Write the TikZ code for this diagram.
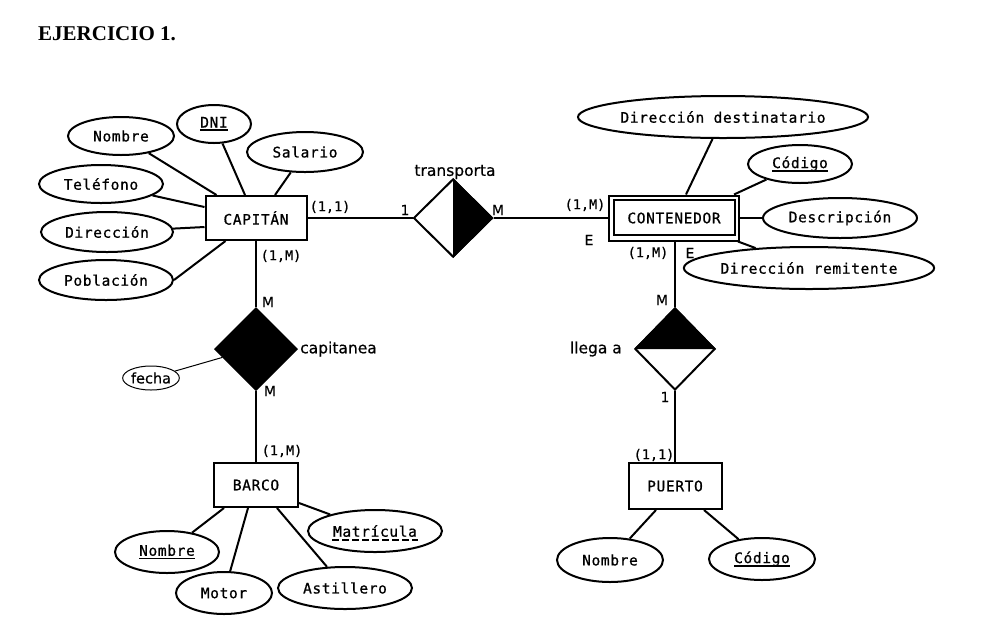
\documentclass[tikz,border=0pt]{standalone}
\usepackage{fontspec}
\setmainfont{Liberation Serif}
\newfontfamily\monof[LetterSpace=4.5,FakeBold=0.8]{DejaVu Sans Mono}
\newfontfamily\monoc[FakeBold=0.8]{DejaVu Sans Mono}
\newfontfamily\sansf[FakeBold=0.5]{DejaVu Sans}
\usetikzlibrary{shapes.geometric,calc}
\newcommand{\uln}[1]{\setbox0=\hbox{#1}\rlap{\rule[-3.5pt]{\wd0}{1.6pt}}\box0}
\tikzset{
 attr/.style={draw, ellipse, line width=2pt, inner sep=0pt, font=\monof\fontsize{14.5}{17}\selectfont},
 ent/.style={draw, rectangle, line width=2pt, inner sep=0pt, font=\monof\fontsize{14.5}{17}\selectfont},
 conn/.style={line width=2pt},
 card/.style={font=\monoc\fontsize{13.5}{16}\selectfont, inner sep=0pt},
 lab/.style={font=\sansf\fontsize{14}{16}\selectfont, inner sep=0pt},
 rname/.style={font=\sansf\fontsize{15.5}{18}\selectfont, inner sep=0pt},
 rel/.style={draw, diamond, aspect=1, line width=2pt, inner sep=0pt},
}
\begin{document}
\begin{tikzpicture}[x=1pt,y=-1pt]
\fill[white] (0,0) rectangle (993,625);
\useasboundingbox (0,0) rectangle (993,625);

\node[anchor=base west, inner sep=0pt, font=\bfseries\fontsize{21}{25}\selectfont] (title) at (38,40) {EJERCICIO 1.};

% CAPITAN
\node[ent, minimum width=101, minimum height=44] (cap) at (256,218) {CAPITÁN};
\node[attr, minimum width=106, minimum height=38] (nom) at (121,136) {Nombre};
\node[attr, minimum width=74, minimum height=38] (dni) at (214,124) {\uln{DNI}};
\node[attr, minimum width=116, minimum height=40] (sal) at (305,152) {Salario};
\node[attr, minimum width=124, minimum height=38] (tel) at (101,184) {Teléfono};
\node[attr, minimum width=132, minimum height=40] (dir) at (107,232) {Dirección};
\node[attr, minimum width=134, minimum height=40] (pob) at (106,280) {Población};

% capitanea
\node[rel, fill=black, minimum width=82, minimum height=82] (cp) at (256,349) {};
\node[draw, ellipse, line width=1pt, minimum width=54, minimum height=24, inner sep=0pt, font=\sansf\fontsize{14.5}{16}\selectfont] (fe) at (151,378) {fecha};

% BARCO
\node[ent, minimum width=84, minimum height=44] (bar) at (256,485) {BARCO};
\node[attr, minimum width=104, minimum height=42] (nomb) at (167,552) {\uln{Nombre}};
\node[attr, minimum width=96, minimum height=42] (mot) at (224,593) {Motor};
\node[attr, minimum width=134, minimum height=42] (ast) at (345,588) {Astillero};
\node[attr, minimum width=134, minimum height=42] (mat) at (375,531) {Matrícula};
\draw[line width=1.6pt, dash pattern=on 7pt off 3pt] ($(mat.center)+(-43,9)$) -- ($(mat.center)+(43,9)$);

% transporta
\node[rel, minimum width=79, minimum height=78] (tr) at (453,218) {};
\fill (tr.north) -- (tr.east) -- (tr.south) -- cycle;

% CONTENEDOR
\node[ent, minimum width=130, minimum height=45] (cont) at (674,218) {CONTENEDOR};
\draw[line width=2pt] ([shift={(5.5,5)}]cont.north west) rectangle ([shift={(-5.5,-7)}]cont.south east);
\node[attr, minimum width=260, minimum height=42] (dd) at (723,117) {Dirección destinatario};
\node[attr, minimum width=104, minimum height=38] (cod) at (800,164) {\uln{Código}};
\node[attr, minimum width=154, minimum height=40] (desc) at (840,218) {Descripción};
\node[attr, minimum width=232, minimum height=42] (drem) at (809,268) {Dirección remitente};

% llega a
\node[rel, minimum width=80, minimum height=82] (ll) at (675,349) {};
\fill (ll.west) -- (ll.north) -- (ll.east) -- cycle;

% PUERTO
\node[ent, minimum width=93, minimum height=46] (pu) at (675,486) {PUERTO};
\node[attr, minimum width=106, minimum height=44] (nomp) at (610,560) {Nombre};
\node[attr, minimum width=106, minimum height=42] (codp) at (762,559) {\uln{Código}};

% connectors
\draw[conn] (nom) -- ([xshift=12]cap.north west);
\draw[conn] (dni) -- ([xshift=-11]cap.north);
\draw[conn] (sal) -- ([xshift=19]cap.north);
\draw[conn] (tel) -- ([yshift=11]cap.west);
\draw[conn] (dir) -- ([yshift=-9]cap.west);
\draw[conn] (pob.east) -- ([xshift=21]cap.south west);
\draw[conn] (cap) -- (tr);
\draw[conn] (tr) -- (cont);
\draw[conn] (cap) -- (cp);
\draw[conn] (cp) -- (bar);
\draw[line width=1pt] (fe) -- ($(cp.west)!0.2!(cp.south)$);
\draw[conn] (nomb) -- ([xshift=11]bar.south west);
\draw[conn] (mot) -- ([xshift=-8]bar.south);
\draw[conn] (ast) -- ([xshift=21]bar.south);
\draw[conn] (mat) -- ([yshift=5]bar.south east);
\draw[conn] (dd) -- ([xshift=12]cont.north);
\draw[conn] (cod) -- ([xshift=-6]cont.north east);
\draw[conn] (desc) -- (cont);
\draw[conn] (drem) -- ([xshift=-2]cont.south east);
\draw[conn] (ll.north |- cont.south) -- (ll.north);
\draw[conn] (ll) -- (pu);
\draw[conn] (nomp) -- ([xshift=-19]pu.south);
\draw[conn] (codp) -- ([xshift=29]pu.south);

% labels
\node[card] (c1) at (330,207) {(1,1)};
\node[card] (c2) at (281,256) {(1,M)};
\node[lab] (m1) at (268,302) {M};
\node[rname, anchor=west] (capl) at (300,349) {capitanea};
\node[lab] (m2) at (270,391) {M};
\node[card] (c3) at (282,451) {(1,M)};
\node[rname] (trl) at (455,172) {transporta};
\node[lab] (o1) at (405,210) {1};
\node[lab] (m3) at (498,210) {M};
\node[card] (c4) at (585,205) {(1,M)};
\node[lab] (e1) at (589,240) {E};
\node[card] (c5) at (648,253) {(1,M)};
\node[lab] (e2) at (690,253) {E};
\node[lab] (m4) at (662,300) {M};
\node[rname, anchor=east] (lll) at (622,349) {llega a};
\node[lab] (o2) at (665,397) {1};
\node[card] (c6) at (654,455) {(1,1)};
\end{tikzpicture}
\end{document}
